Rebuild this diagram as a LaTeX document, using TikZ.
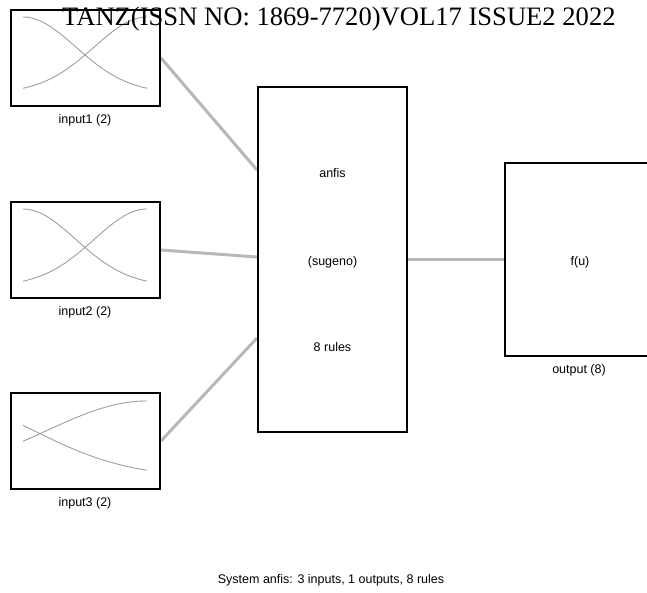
\documentclass[tikz,border=0pt]{standalone}
\usepackage{fontspec}
\setmainfont{Liberation Serif}
\setsansfont{Liberation Sans}
\usetikzlibrary{calc}
\usetikzlibrary{backgrounds}
\tikzset{
  block/.style={draw=black, line width=2pt, inner sep=0pt},
  link/.style={draw=black!28, line width=3pt},
  mf/.style={draw=black!38, line width=0.9pt},
  lbl/.style={font=\sffamily\fontsize{12.5}{14}\selectfont, inner sep=0pt},
}
\begin{document}
\begin{tikzpicture}[x=1pt, y=-1pt]
      \useasboundingbox (0,0) rectangle (647,592);
      \clip (0,0) rectangle (647,592);
      % input blocks
      \node [block, minimum width=149pt, minimum height=96pt] (in1) at (85.5, 58) {};
      \node [lbl] (in1lbl) at (85, 120) {input1 (2)};
      \node [block, minimum width=149pt, minimum height=96pt] (in2) at (85.5, 250) {};
      \node [lbl] (in2lbl) at (85, 312) {input2 (2)};
      \node [block, minimum width=149pt, minimum height=96pt] (in3) at (85.5, 441) {};
      \node [lbl] (in3lbl) at (85, 503) {input3 (2)};
      % membership functions
      \begin{scope}[shift={(23, 93)}, x=124pt, y=76pt]
        \draw[mf] plot[domain=0:1, samples=50, smooth] (\x, {exp(-(\x)^2/(2*0.425^2))});
        \draw[mf] plot[domain=0:1, samples=50, smooth] (\x, {exp(-(1-\x)^2/(2*0.425^2))});
      \end{scope}
      \begin{scope}[shift={(23, 286)}, x=124pt, y=77pt]
        \draw[mf] plot[domain=0:1, samples=50, smooth] (\x, {exp(-(\x)^2/(2*0.425^2))});
        \draw[mf] plot[domain=0:1, samples=50, smooth] (\x, {exp(-(1-\x)^2/(2*0.425^2))});
      \end{scope}
      \begin{scope}[shift={(23, 477)}, x=124pt, y=76pt]
        \draw[mf] plot[domain=0:1, samples=50, smooth] (\x, {exp(-(1-\x)^2/(2*0.814^2))});
        \draw[mf] plot[domain=0:1, samples=50, smooth] (\x, {exp(-(\x+0.667)^2/(2*0.759^2))});
      \end{scope}
      % rule block
      \node [block, minimum width=149pt, minimum height=345pt] (main) at (332.5, 259.5) {};
      \node [lbl] (name) at (332.5, 173) {anfis};
      \node [lbl] (type) at (332.5, 262) {(sugeno)};
      \node [lbl] (rules) at (332.5, 347) {8 rules};
      % output block
      \node [block, minimum width=150pt, minimum height=193pt] (out) at (580, 259.5) {};
      \node [lbl] (fu) at (580, 262) {f(u)};
      \node [lbl] (outlbl) at (579, 370) {output (8)};
      \begin{scope}[on background layer]
        \draw[link] (in1.east) -- ([yshift=89.5pt]main.west);
        \draw[link] (in2.east) -- ([yshift=2.5pt]main.west);
        \draw[link] (in3.east) -- ([yshift=-78.5pt]main.west);
        \draw[link] (main.east) -- (out.west);
      \end{scope}
      \node [lbl] (caption) at (331, 580) {System anfis: 3 inputs, 1 outputs, 8 rules};
      \node [font=\rmfamily\fontsize{26.6}{30}\selectfont, anchor=base west, inner sep=0pt] (head) at (62, 25) {TANZ(ISSN NO: 1869-7720)VOL17 ISSUE2 2022};
    \end{tikzpicture}
\end{document}
